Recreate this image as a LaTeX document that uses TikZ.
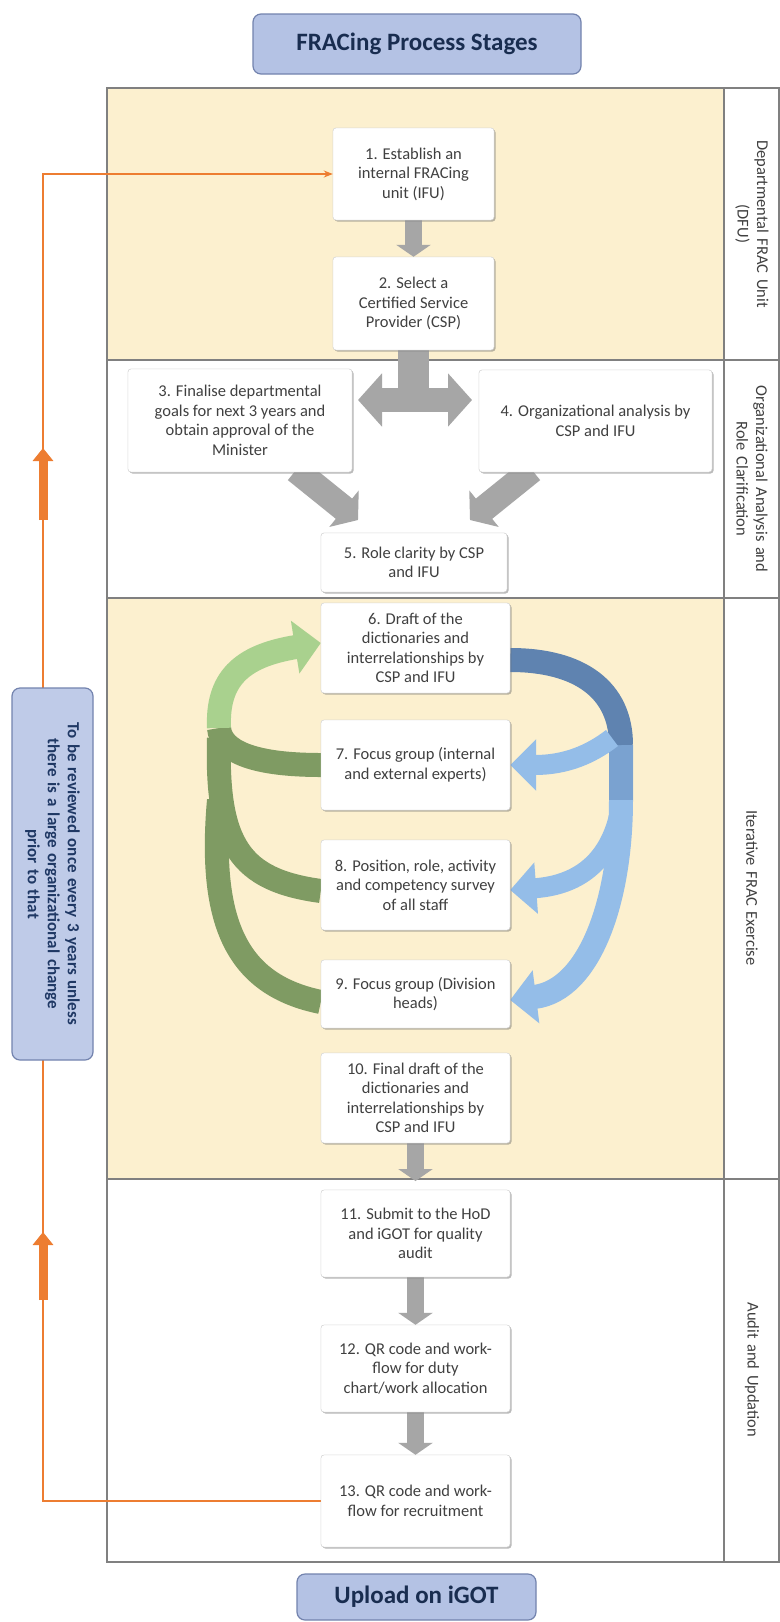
\documentclass[tikz,border=0pt]{standalone}
\usepackage{fontspec}
\setmainfont{Carlito}
\usetikzlibrary{arrows.meta,shadows,calc}
\definecolor{cream}{HTML}{FCF0CF}
\definecolor{orangeL}{HTML}{ED7D31}
\definecolor{greyA}{HTML}{A6A6A6}
\definecolor{titleblue}{HTML}{B4C2E4}
\definecolor{titleborder}{HTML}{7383AE}
\definecolor{gL}{HTML}{A9D18E}
\definecolor{gD}{HTML}{7F9B63}
\definecolor{bD}{HTML}{5F83B0}
\definecolor{bM}{HTML}{7AA2D0}
\definecolor{bL}{HTML}{94BDE8}
\definecolor{txt}{HTML}{404040}
\definecolor{navy}{HTML}{1F3864}
\definecolor{frameline}{HTML}{808080}
\tikzset{
  stepbox/.style={draw=black!18, fill=white, rounded corners=3pt, align=center,
    inner sep=2pt, text=txt, font=\fontsize{16.5}{19.5}\selectfont,
    drop shadow={shadow xshift=1.5pt, shadow yshift=-1.5pt, opacity=0.25, fill=black!60}},
  headbox/.style={draw=titleborder, line width=1.2pt, fill=titleblue, rounded corners=8pt,
    align=center, text=navy!80!black, font=\fontsize{25}{30}\selectfont\bfseries},
  sidelabel/.style={rotate=-90, align=center, text=txt, font=\fontsize{16.5}{19.5}\selectfont},
  greyarrow/.style={greyA, line width=#1},
  orangeline/.style={orangeL, line width=1.6pt},
  bandline/.style={line width=#1},
}
\begin{document}
\begin{tikzpicture}[x=1pt,y=-1pt]
\useasboundingbox (0,0) rectangle (779,1622);
\fill[white] (0,0) rectangle (779,1622);
% bands
\fill[cream] (107,88) rectangle (724,360);
\fill[cream] (107,598) rectangle (724,1179);
\draw[frameline, line width=1.2pt] (107,88) rectangle (779,1562);
\draw[frameline, line width=1.2pt] (724,88) -- (724,1562);
\draw[frameline, line width=1.2pt] (107,360) -- (779,360);
\draw[frameline, line width=1.2pt] (107,598) -- (779,598);
\draw[frameline, line width=1.2pt] (107,1179) -- (779,1179);

% side labels
\node[sidelabel, text width=270pt] (lab1) at (752,224) {Departmental FRAC Unit\\(DFU)};
\node[sidelabel, text width=240pt] (lab2) at (752,479) {Organizational Analysis and\\Role Clarification};
\node[sidelabel, text width=300pt] (lab3) at (752,888) {Iterative FRAC Exercise};
\node[sidelabel, text width=300pt] (lab4) at (752,1370) {Audit and Updation};

% coordinates for free ends
\coordinate (stemEnd) at (413.5,402);
\coordinate (hL) at (358,400);
\coordinate (hR) at (472,400);
\coordinate (d3s) at (296,470);
\coordinate (d3e) at (358,520);
\coordinate (d4s) at (532,470);
\coordinate (d4e) at (470,520);
\coordinate (divTip) at (415.5,1181);
\coordinate (gJ1) at (219,728);
\coordinate (gJ2) at (219,738);
\coordinate (gJ3) at (219,800);
\coordinate (bT1) at (621,745);
\coordinate (bT2) at (621,800);
\coordinate (bB7) at (612,738);
\coordinate (bB8) at (621,806);
\coordinate (oBot) at (43,1501);
\coordinate (oTop) at (43,174);
\coordinate (up1s) at (43,520);
\coordinate (up1e) at (43,448);
\coordinate (up2s) at (43,1300);
\coordinate (up2e) at (43,1232);

% boxes (placed first so arrows can refer to them; redrawn on top later)
\node[stepbox, minimum width=161pt, minimum height=92pt] (b1) at (413.5,174) {1. Establish an\\internal FRACing\\unit (IFU)};
\node[stepbox, minimum width=161pt, minimum height=93pt] (b2) at (413.5,303.5) {2. Select a\\Certified Service\\Provider (CSP)};
\node[stepbox, minimum width=224pt, minimum height=103pt] (b3) at (240,420.5) {3. Finalise departmental\\goals for next 3 years and\\obtain approval of the\\Minister};
\node[stepbox, minimum width=233pt, minimum height=102pt] (b4) at (595.5,421) {4. Organizational analysis by\\CSP and IFU};
\node[stepbox, minimum width=186pt, minimum height=59pt] (b5) at (414,562.5) {5. Role clarity by CSP\\and IFU};
\node[stepbox, minimum width=189pt, minimum height=90pt] (b6) at (415.5,648) {6. Draft of the\\dictionaries and\\interrelationships by\\CSP and IFU};
\node[stepbox, minimum width=189pt, minimum height=90pt] (b7) at (415.5,765) {7. Focus group (internal\\and external experts)};
\node[stepbox, minimum width=189pt, minimum height=90pt] (b8) at (415.5,885) {8. Position, role, activity\\and competency survey\\of all staff};
\node[stepbox, minimum width=189pt, minimum height=68pt] (b9) at (415.5,994) {9. Focus group (Division\\heads)};
\node[stepbox, minimum width=189pt, minimum height=90pt] (b10) at (415.5,1098) {10. Final draft of the\\dictionaries and\\interrelationships by\\CSP and IFU};
\node[stepbox, minimum width=189pt, minimum height=87pt] (b11) at (415.5,1233.5) {11. Submit to the HoD\\and iGOT for quality\\audit};
\node[stepbox, minimum width=189pt, minimum height=87pt] (b12) at (415.5,1368.5) {12. QR code and work-\\flow for duty\\chart/work allocation};
\node[stepbox, minimum width=189pt, minimum height=92pt] (b13) at (415.5,1501) {13. QR code and work-\\flow for recruitment};

% grey arrows
\draw[greyarrow=17pt, -{Triangle[length=12pt,width=34pt]}] (b1.south) -- (b2.north);
\draw[greyarrow=31pt] (b2.south) -- (stemEnd);
\draw[greyarrow=24pt, {Triangle[length=24pt,width=52pt]}-{Triangle[length=24pt,width=52pt]}] (hL) -- (hR);
\draw[greyarrow=26pt, -{Triangle[length=18pt,width=46pt]}] (d3s) -- (d3e);
\draw[greyarrow=26pt, -{Triangle[length=18pt,width=46pt]}] (d4s) -- (d4e);
\draw[greyarrow=17pt, -{Triangle[length=12pt,width=34pt]}] (b10.south) -- (divTip);
\draw[greyarrow=17pt, -{Triangle[length=12pt,width=34pt]}] (b11.south) -- (b12.north);
\draw[greyarrow=17pt, -{Triangle[length=12pt,width=34pt]}] (b12.south) -- (b13.north);

% green loop arrows (left)
\draw[gD, bandline=24pt] ([yshift=-8pt]b9.west) .. controls (238,985) and (208,925) .. (gJ3);
\draw[gD, bandline=24pt] ([yshift=-6pt]b8.west) .. controls (240,880) and (216,845) .. (gJ2);
\draw[gD, bandline=24pt] (b7.west) .. controls (255,765) and (221,752) .. (gJ1);
\draw[gL, bandline=24pt, -{Triangle[length=26pt,width=52pt]}] (gJ1) .. controls (217,680) and (240,656) .. ([yshift=5pt]b6.west);

% blue loop arrows (right)
\draw[bL, bandline=24pt, -{Triangle[length=26pt,width=52pt]}] (bT1) -- (bT2) .. controls (621,900) and (590,990) .. ([yshift=-6pt]b9.east);
\draw[bM, bandline=24pt] (bT1) -- (bT2);
\draw[bD, bandline=24pt] ([yshift=-12pt]b6.east) .. controls (580,660) and (621,690) .. (bT1);
\draw[bL, bandline=20pt, -{Triangle[length=26pt,width=50pt]}] (bB7) .. controls (590,755) and (565,765) .. (b7.east);
\draw[bL, bandline=20pt, -{Triangle[length=26pt,width=50pt]}] (bB8) .. controls (612,860) and (580,885) .. ([yshift=-5pt]b8.east);

% orange feedback line
\draw[orangeline, -{Stealth[length=9pt,width=7pt]}] (b13.west) -- (oBot) -- (oTop) -- (b1.west);
\draw[orangeL, line width=9pt, -{Triangle[length=13pt,width=20pt]}] (up1s) -- (up1e);
\draw[orangeL, line width=9pt, -{Triangle[length=13pt,width=20pt]}] (up2s) -- (up2e);

% left review box
\node[draw=titleborder, line width=1.2pt, fill=titleblue!85, rounded corners=8pt,
  minimum width=372pt, minimum height=81pt, rotate=-90, align=center, text width=360pt,
  text=navy, font=\fontsize{17}{20}\selectfont\bfseries] (rev) at (52.5,874)
  {To be reviewed once every 3 years unless\\there is a large organizational change\\prior to that};

% title and footer
\node[headbox, minimum width=328pt, minimum height=60pt] (title) at (417,44) {FRACing Process Stages};
\node[headbox, minimum width=239pt, minimum height=46pt] (upload) at (416.5,1597) {Upload on iGOT};

% redraw boxes on top of arrows
\foreach \n/\x/\y/\w/\h/\t in {
  b1/413.5/174/161/92/{1. Establish an\\internal FRACing\\unit (IFU)},
  b2/413.5/303.5/161/93/{2. Select a\\Certified Service\\Provider (CSP)},
  b3/240/420.5/224/103/{3. Finalise departmental\\goals for next 3 years and\\obtain approval of the\\Minister},
  b4/595.5/421/233/102/{4. Organizational analysis by\\CSP and IFU},
  b5/414/562.5/186/59/{5. Role clarity by CSP\\and IFU},
  b6/415.5/648/189/90/{6. Draft of the\\dictionaries and\\interrelationships by\\CSP and IFU},
  b7/415.5/765/189/90/{7. Focus group (internal\\and external experts)},
  b8/415.5/885/189/90/{8. Position, role, activity\\and competency survey\\of all staff},
  b9/415.5/994/189/68/{9. Focus group (Division\\heads)},
  b10/415.5/1098/189/90/{10. Final draft of the\\dictionaries and\\interrelationships by\\CSP and IFU},
  b11/415.5/1233.5/189/87/{11. Submit to the HoD\\and iGOT for quality\\audit},
  b12/415.5/1368.5/189/87/{12. QR code and work-\\flow for duty\\chart/work allocation},
  b13/415.5/1501/189/92/{13. QR code and work-\\flow for recruitment}}
  {\node[stepbox, minimum width=\w pt, minimum height=\h pt] (\n) at (\x,\y) {\t};}
\end{tikzpicture}
\end{document}
